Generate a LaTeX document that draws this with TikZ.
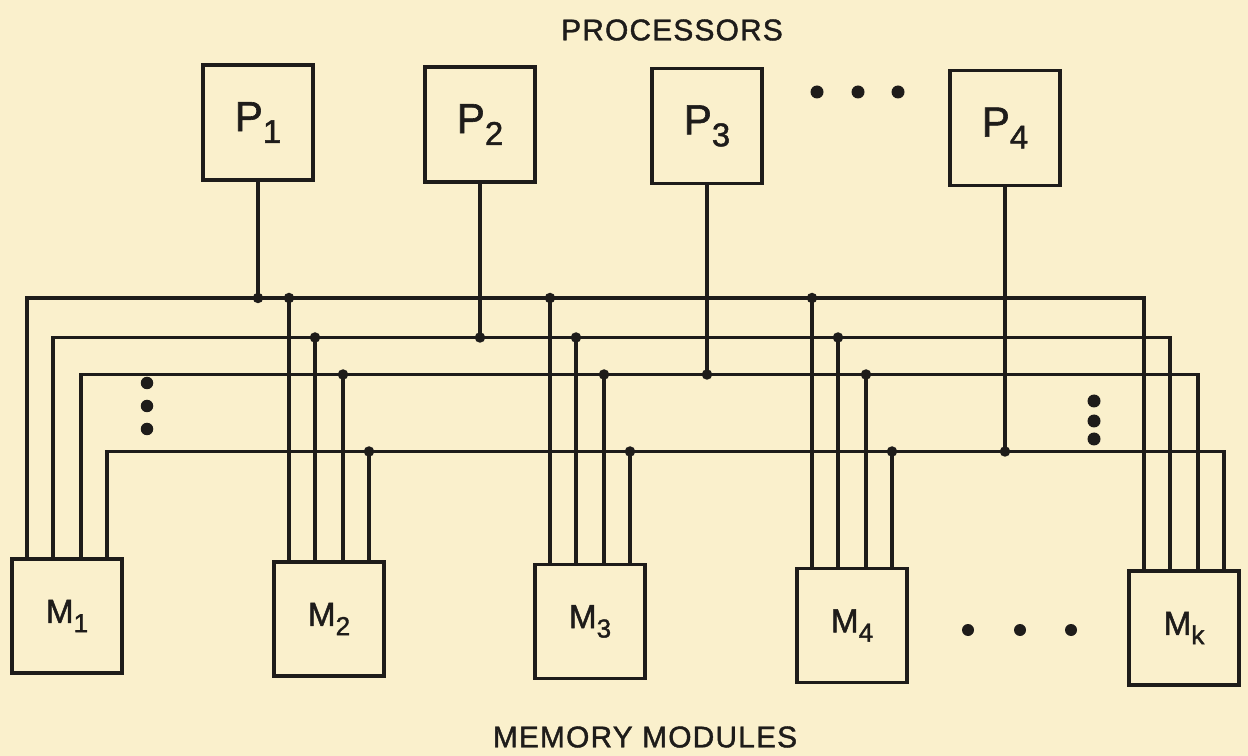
\documentclass[tikz,border=0pt]{standalone}
\usepackage{fontspec}
\setmainfont{Liberation Sans}
\newfontfamily\pluma{Liberation Sans}[FakeBold=1.4,LetterSpace=4]
\newcommand{\subidx}[1]{\raisebox{-0.28em}{\scalebox{0.78}{#1}}}
\definecolor{papel}{RGB}{250,240,204}
\definecolor{tinta}{RGB}{30,28,26}
\begin{document}
\begin{tikzpicture}[x=0.2mm,y=-0.2mm,
  titulo/.style={font=\pluma\fontsize{17}{20}\selectfont,text=tinta},
  proc/.style={draw=tinta,line width=2pt,minimum width=22mm,minimum height=23mm,inner sep=0pt,font=\pluma\fontsize{24}{26}\selectfont,text=tinta},
  mem/.style={draw=tinta,line width=2pt,minimum width=22mm,minimum height=22.8mm,inner sep=0pt,font=\pluma\fontsize{19}{21}\selectfont,text=tinta},
  wire/.style={draw=tinta,line width=1.8pt},
  jn/.style={circle,fill=tinta,inner sep=0pt,minimum size=2.1mm}]
  \path[use as bounding box,fill=papel] (0,0) rectangle (1248,756);
  % cabeceras
  \node[titulo] (proc) at (672,30) {PROCESSORS};
  \node[titulo] (memo) at (645,737) {MEMORY MODULES};
  % procesadores
  \node[proc] (P1) at (258,122.5) {P\subidx{1}};
  \node[proc] (P2) at (480,124.5) {P\subidx{2}};
  \node[proc] (P3) at (707,126) {P\subidx{3}};
  \node[proc] (P4) at (1005,128) {P\subidx{4}};
  % modulos de memoria
  \node[mem] (M1) at (67,616) {M\subidx{1}};
  \node[mem] (M2) at (329,619) {M\subidx{2}};
  \node[mem] (M3) at (590,621.5) {M\subidx{3}};
  \node[mem] (M4) at (852,625.5) {M\subidx{4}};
  \node[mem] (Mk) at (1184,628) {M\subidx{k}};
  % buses
  \coordinate (b1) at (0,298);
  \coordinate (b2) at (0,337.5);
  \coordinate (b3) at (0,374.5);
  \coordinate (b4) at (0,451.5);
  \foreach \o/\i in {-8mm/1,-2.8mm/2,2.8mm/3,8mm/4}
    \draw[wire] ([xshift=\o]M1.north) -- ([xshift=\o]M1.north |- b\i)
      -- ([xshift=\o]Mk.north |- b\i) -- ([xshift=\o]Mk.north);
  \foreach \m in {M2,M3,M4}
    \foreach \o/\i in {-8mm/1,-2.8mm/2,2.8mm/3,8mm/4}
      \draw[wire] ([xshift=\o]\m.north) -- ([xshift=\o]\m.north |- b\i) node[jn]{};
  \foreach \p/\i in {P1/1,P2/2,P3/3,P4/4}
    \draw[wire] (\p) -- (\p |- b\i) node[jn]{};
  % puntos suspensivos
  \foreach \x in {817,858,898} \fill[tinta] (\x,92) circle (1.3mm);
  \foreach \x in {968,1020,1071} \fill[tinta] (\x,630) circle (1.2mm);
  \foreach \y in {383,406,429} \fill[tinta] (147,\y) circle (1.25mm);
  \foreach \y in {401,421,439} \fill[tinta] (1094,\y) circle (1.3mm);
\end{tikzpicture}
\end{document}
